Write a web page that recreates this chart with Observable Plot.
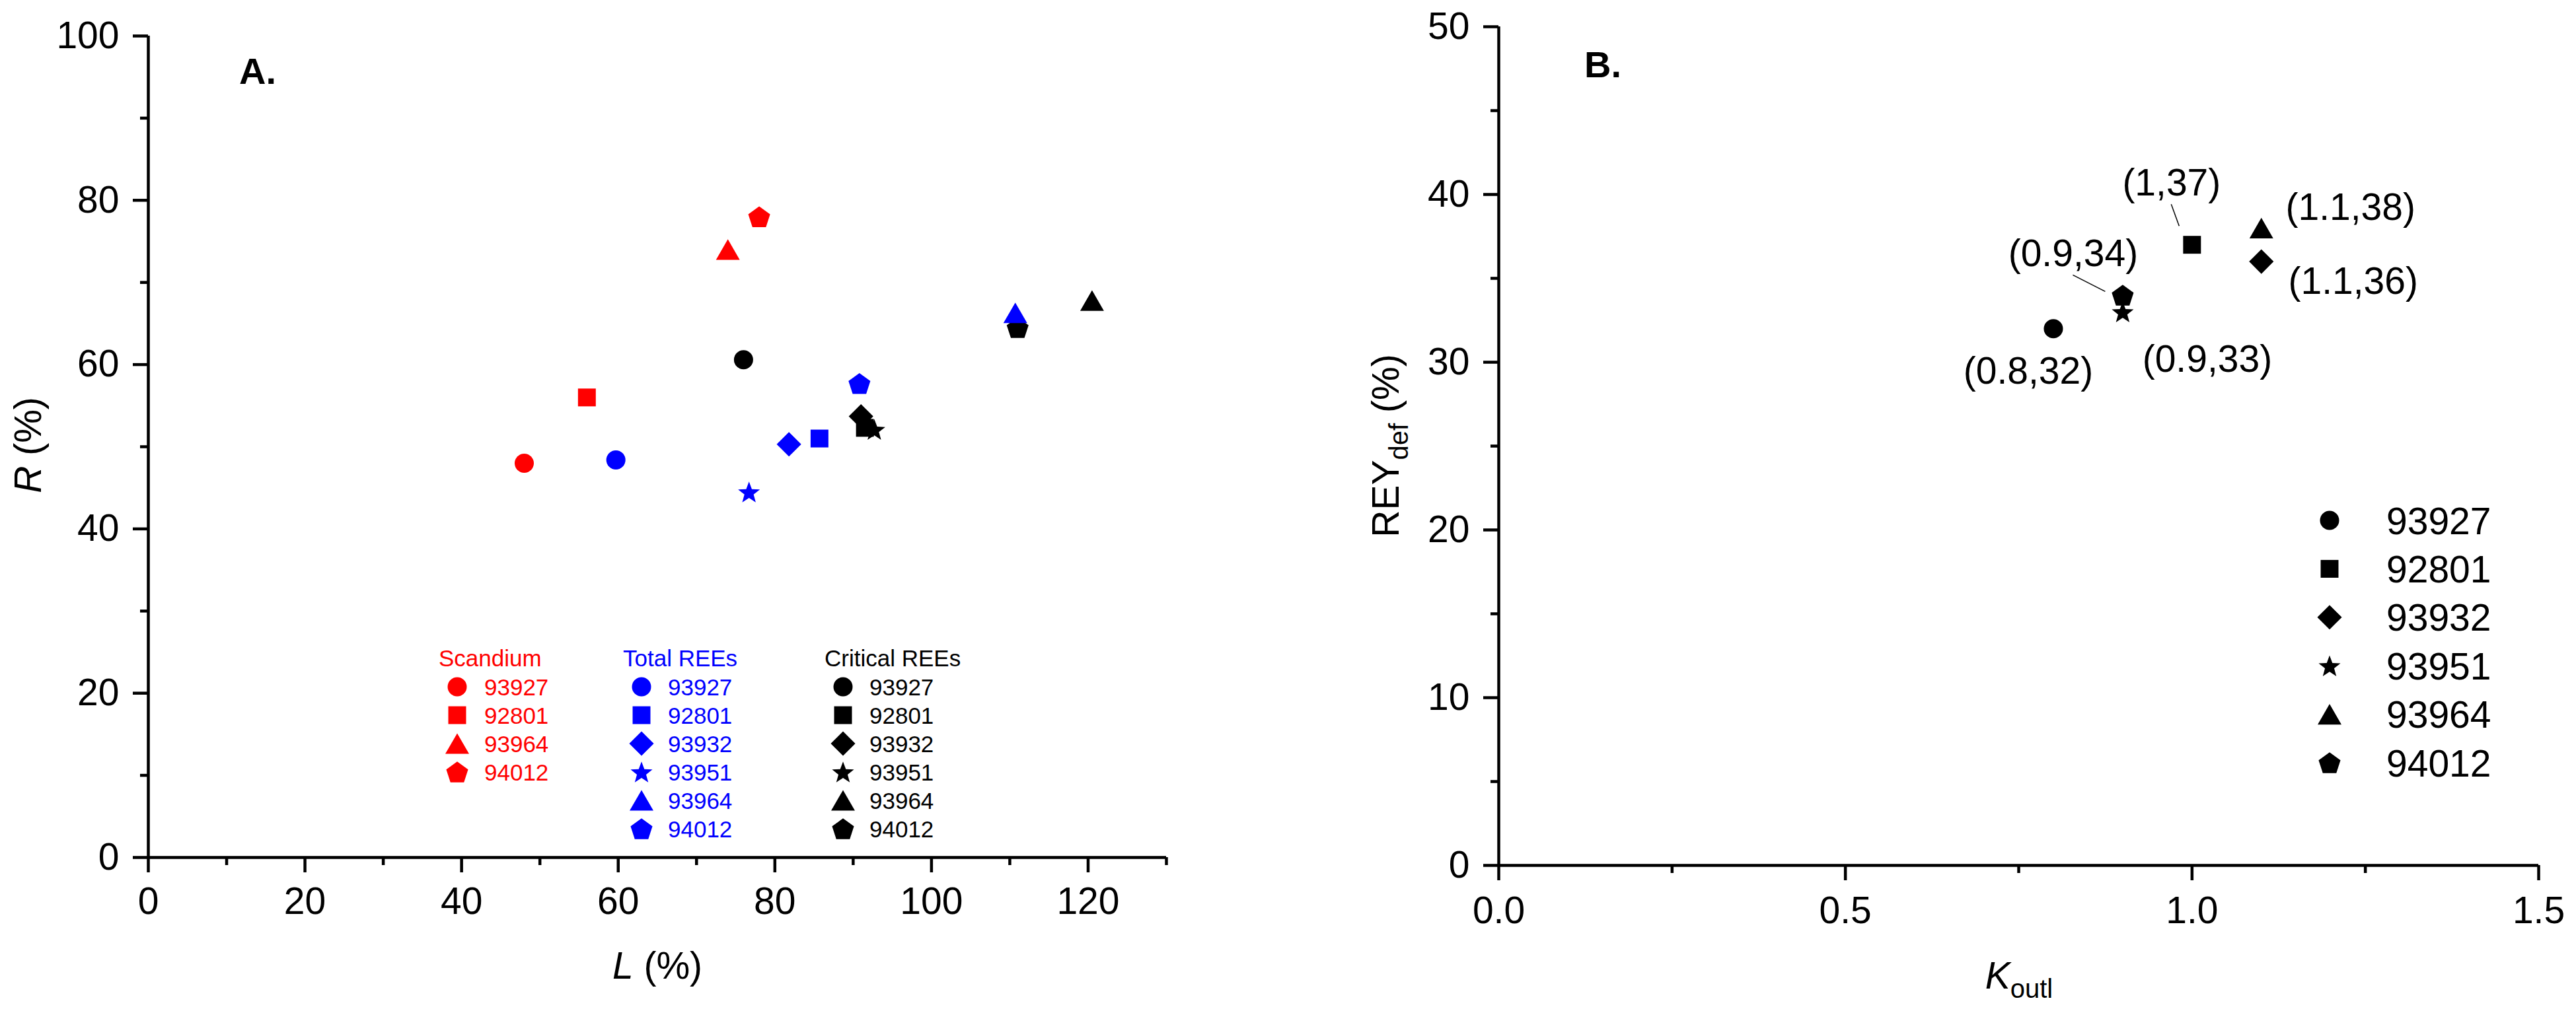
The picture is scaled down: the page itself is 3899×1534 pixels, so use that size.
<!DOCTYPE html>
<html><head><meta charset="utf-8">
<script src="https://cdn.jsdelivr.net/npm/d3@7"></script>
<script src="https://cdn.jsdelivr.net/npm/@observablehq/plot@0.6"></script>
<style>
html,body{margin:0;padding:0;background:#fff;}
#fig{position:relative;width:3899px;height:1534px;overflow:hidden;background:#fff;}
#fig svg{position:absolute;top:0;}
</style></head><body><div id="fig"></div>
<script>
// ---------------- DATA ----------------
const samples = ["93927", "92801", "93932", "93951", "93964", "94012"];
const shapes  = ["circle", "square", "diamond", "star", "triangle", "pentagon"];

// Panel A: L (%) vs R (%)
const scIds   = ["93927", "92801", "93964", "94012"];
const scL     = [48, 56, 74, 78];
const scR     = [48, 56, 74, 78];
const totIds  = ["93927", "92801", "93932", "93951", "93964", "94012"];
const totL    = [59.7, 85.7, 81.8, 76.7, 110.7, 90.8];
const totR    = [48.4, 51.0, 50.3, 44.5, 66.3, 57.7];
const critIds = ["93927", "92801", "93932", "93951", "93964", "94012"];
const critL   = [76.0, 91.5, 91.0, 92.7, 120.5, 111.0];
const critR   = [60.6, 52.3, 53.7, 52.1, 67.8, 64.5];
const groupNames  = ["Scandium", "Total REEs", "Critical REEs"];
const groupColors = ["#FF0000", "#0000FF", "#000000"];

// Panel B: K_outl vs REY_def (%)
const bIds   = ["93927", "92801", "93932", "93951", "93964", "94012"];
const kOutl  = [0.8, 1.0, 1.1, 0.9, 1.1, 0.9];
const reyDef = [32, 37, 36, 33, 38, 34];

// axis ticks
const aXMajor = [0, 20, 40, 60, 80, 100, 120], aXMinor = [10, 30, 50, 70, 90, 110, 130];
const aYMajor = [0, 20, 40, 60, 80, 100],      aYMinor = [10, 30, 50, 70, 90];
const bXMajor = [0, 0.5, 1.0, 1.5],            bXMinor = [0.25, 0.75, 1.25];
const bYMajor = [0, 10, 20, 30, 40, 50],       bYMinor = [5, 15, 25, 35, 45];

// ---------------- LAYOUT / STYLE ----------------
const FONT = "'Liberation Sans', Arial, Helvetica, sans-serif";
const FS = 57;
const R0 = 14.5;
const AXW = 4.5;
const shapeOf = Object.fromEntries(samples.map((s, i) => [s, shapes[i]]));

function sym(fn) { return {draw(ctx, size) { fn(ctx, Math.sqrt(size / Math.PI)); }}; }
function poly(ctx, n, R, inner, off) {
  const m = inner ? 2 * n : n;
  for (let i = 0; i < m; i++) {
    const a = -Math.PI / 2 + i * 2 * Math.PI / m;
    const rr = inner && (i % 2) ? inner : R;
    const x = rr * Math.cos(a), y = rr * Math.sin(a) + off;
    i ? ctx.lineTo(x, y) : ctx.moveTo(x, y);
  }
  ctx.closePath();
}
const symbols = {
  circle:   sym((c, r) => { c.moveTo(r, 0); c.arc(0, 0, r, 0, 2 * Math.PI); }),
  square:   sym((c, r) => { const h = 0.93 * r; c.rect(-h, -h, 2 * h, 2 * h); }),
  diamond:  sym((c, r) => { const h = 1.28 * r; c.moveTo(0, -h); c.lineTo(h, 0); c.lineTo(0, h); c.lineTo(-h, 0); c.closePath(); }),
  triangle: sym((c, r) => { const w = 1.24 * r, h = 1.076 * r; c.moveTo(0, -h); c.lineTo(w, h); c.lineTo(-w, h); c.closePath(); }),
  pentagon: sym((c, r) => { const R = 1.2 * r; poly(c, 5, R, 0, 0.0955 * R); }),
  star:     sym((c, r) => { const R = 1.2 * r; poly(c, 5, R, 0.42 * R, 0.0955 * R); })
};

const fig = document.getElementById("fig");

function axes(xMaj, xMin, yMaj, yMin, xFmt, yFmt, xPad) {
  return [
    Plot.ruleY([0], {strokeWidth: AXW}),
    Plot.ruleX([0], {strokeWidth: AXW}),
    Plot.axisX({ticks: xMaj, tickSize: 23, tickPadding: xPad, strokeWidth: AXW, fontSize: FS, label: null, tickFormat: xFmt, fill: "black"}),
    Plot.axisX({ticks: xMin, tickSize: 12, strokeWidth: AXW, label: null, tickFormat: () => ""}),
    Plot.axisY({ticks: yMaj, tickSize: 23, tickPadding: 21, strokeWidth: AXW, fontSize: FS, label: null, tickFormat: yFmt, fill: "black"}),
    Plot.axisY({ticks: yMin, tickSize: 12, strokeWidth: AXW, label: null, tickFormat: () => ""})
  ];
}

// ---------------- PANEL A ----------------
const groupsA = [
  {ids: scIds, L: scL, R: scR},
  {ids: totIds, L: totL, R: totR},
  {ids: critIds, L: critL, R: critR}
].map((g, gi) => ({...g, name: groupNames[gi], color: groupColors[gi]}));

const dotsA = [];
for (const gi of [2, 1, 0]) {
  const g = groupsA[gi];
  const rows = g.ids.map((id, i) => ({id, L: g.L[i], R: g.R[i], shape: shapeOf[id]}));
  for (const s of shapes) {
    const sub = rows.filter(d => d.shape === s);
    if (sub.length) dotsA.push(Plot.dot(sub, {x: "L", y: "R", r: R0, symbol: symbols[s], fill: g.color, stroke: "none"}));
  }
}

const WA = 1950;
const plotA = Plot.plot({
  width: WA, height: 1534,
  marginLeft: 224, marginRight: WA - 1765, marginTop: 54, marginBottom: 236,
  x: {domain: [0, 130]}, y: {domain: [0, 100]},
  style: {fontFamily: FONT, background: "transparent", color: "black", overflow: "visible"},
  marks: [...axes(aXMajor, aXMinor, aYMajor, aYMinor, d => String(d), d => String(d), 22), ...dotsA]
});
plotA.style.left = "0px";
fig.appendChild(plotA);

{
  const svg = d3.select(plotA);
  const g = svg.append("g").attr("font-family", FONT).attr("fill", "black").attr("text-anchor", "start");
  g.append("text").attr("x", 362).attr("y", 127).attr("font-size", 56).attr("font-weight", "bold").text("A.");
  const xl = g.append("text").attr("x", 995).attr("y", 1482).attr("font-size", FS).attr("text-anchor", "middle");
  xl.append("tspan").attr("font-style", "italic").text("L");
  xl.append("tspan").text(" (%)");
  const yl = g.append("text").attr("transform", "translate(62,674) rotate(-90)").attr("font-size", FS).attr("text-anchor", "middle");
  yl.append("tspan").attr("font-style", "italic").text("R");
  yl.append("tspan").text(" (%)");
  // legend
  const cols = [
    {gi: 0, titleX: 664, symX: 692, textX: 733},
    {gi: 1, titleX: 943, symX: 971, textX: 1011},
    {gi: 2, titleX: 1248, symX: 1276, textX: 1316}
  ];
  const lg = g.append("g").attr("font-size", 35).attr("text-anchor", "start");
  for (const c of cols) {
    const grp = groupsA[c.gi];
    lg.append("text").attr("x", c.titleX).attr("y", 1009).attr("fill", grp.color).text(grp.name);
    grp.ids.forEach((id, i) => {
      const cy = 1040 + i * 43;
      lg.append("path").attr("d", d3.symbol(symbols[shapeOf[id]], Math.PI * R0 * R0)())
        .attr("transform", `translate(${c.symX},${cy})`).attr("fill", grp.color);
      lg.append("text").attr("x", c.textX).attr("y", cy + 12.5).attr("fill", grp.color).text(id);
    });
  }
}

// ---------------- PANEL B ----------------
const rowsB = bIds.map((id, i) => ({id, k: kOutl[i], rey: reyDef[i], shape: shapeOf[id], label: `(${kOutl[i]},${reyDef[i]})`}));
// label placement: offset (px) of label centre/baseline from its point, leader line offsets
const labelLayout = {
  "93927": {dx: -38, dy: 83},
  "92801": {dx: -31, dy: -75, lead: [-31, -61, -19, -28]},
  "93932": {dx: 139, dy: 49},
  "93951": {dx: 128, dy: 91},
  "93964": {dx: 135, dy: -12},
  "94012": {dx: -75, dy: -44, lead: [-75, -30, -26, -5]}
};
const dotsB = shapes.map(s => Plot.dot(rowsB.filter(d => d.shape === s), {x: "k", y: "rey", r: R0, symbol: symbols[s], fill: "black", stroke: "none"}));
const textsB = rowsB.map(d => Plot.text([d], {x: "k", y: "rey", text: "label", dx: labelLayout[d.id].dx, dy: labelLayout[d.id].dy,
  lineAnchor: "bottom", textAnchor: "middle", fontSize: FS, fill: "black"}));

const WB = 3899 - WA;
const plotB = Plot.plot({
  width: WB, height: 1534,
  marginLeft: 2268 - WA, marginRight: 3899 - 3842, marginTop: 40, marginBottom: 224,
  x: {domain: [0, 1.5]}, y: {domain: [0, 50]},
  style: {fontFamily: FONT, background: "transparent", color: "black", overflow: "visible"},
  marks: [...axes(bXMajor, bXMinor, bYMajor, bYMinor, d => d.toFixed(1), d => String(d), 24), ...dotsB, ...textsB]
});
plotB.style.left = WA + "px";
fig.appendChild(plotB);

{
  const svg = d3.select(plotB);
  const sx = plotB.scale("x"), sy = plotB.scale("y");
  const g = svg.append("g").attr("font-family", FONT).attr("fill", "black").attr("text-anchor", "start");
  // leader lines
  rowsB.forEach(d => {
    const L = labelLayout[d.id].lead;
    if (!L) return;
    const px = sx.apply(d.k), py = sy.apply(d.rey);
    g.append("line").attr("x1", px + L[0]).attr("y1", py + L[1]).attr("x2", px + L[2]).attr("y2", py + L[3])
      .attr("stroke", "black").attr("stroke-width", 1.5);
  });
  g.append("text").attr("x", 2398 - WA).attr("y", 117).attr("font-size", 56).attr("font-weight", "bold").text("B.");
  const xl = g.append("text").attr("x", 3056 - WA).attr("y", 1497).attr("font-size", FS).attr("text-anchor", "middle");
  xl.append("tspan").attr("font-style", "italic").text("K");
  xl.append("tspan").attr("font-size", 40).attr("dy", 14).text("outl");
  const yl = g.append("text").attr("transform", `translate(${2117 - WA},675) rotate(-90)`).attr("font-size", FS).attr("text-anchor", "middle");
  yl.append("tspan").text("REY");
  yl.append("tspan").attr("font-size", 40).attr("dy", 14).text("def");
  yl.append("tspan").attr("dy", -14).text(" (%)");
  // legend
  bIds.forEach((id, i) => {
    const cy = 788 + i * 73.4;
    g.append("path").attr("d", d3.symbol(symbols[shapeOf[id]], Math.PI * R0 * R0)())
      .attr("transform", `translate(${3526 - WA},${cy})`).attr("fill", "black");
    g.append("text").attr("x", 3612 - WA).attr("y", cy + 20.5).attr("font-size", FS).text(id);
  });
}
</script>
</body></html>
